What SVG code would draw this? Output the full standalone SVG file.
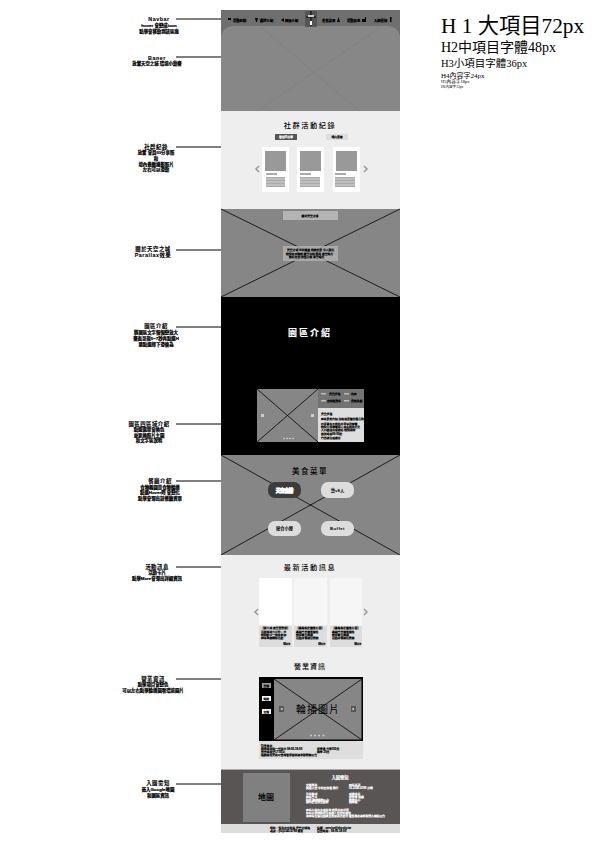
<svg xmlns="http://www.w3.org/2000/svg" width="596" height="842" viewBox="0 0 596 842">
<style>
text{font-family:"Liberation Sans","Noto Sans CJK TC",sans-serif;font-weight:700;fill:#000}
.a1{font-size:5.4px;letter-spacing:.5px;text-anchor:middle;stroke:#000;stroke-width:.1}
.a2{font-size:4.4px;text-anchor:middle;stroke:#000;stroke-width:.22}
.h{font-family:"Liberation Serif","Noto Sans CJK TC",serif;font-weight:400}
.t{text-anchor:middle;letter-spacing:1.6px;font-size:7.2px;font-weight:500}
.s{font-size:2.8px;stroke:#000;stroke-width:.14}
.n{font-size:3.3px;stroke:#000;stroke-width:.2}
.w{fill:#fff;stroke:#fff}
.m{text-anchor:middle}
.con{stroke:#000;stroke-width:1;fill:none}
.x{stroke:#000;stroke-width:.8;fill:none}
.grey{fill:#868686}
.chev{fill:none;stroke:#999;stroke-width:1.5}
</style>
<g id="connectors">
<path class="con" d="M176 19H221M176 57H221M176 147H221M176 250H221M176 327H221M176 424H221M176 481H221M176 567H221M176 679H221M176 784H221"/>
</g>
<g id="style-guide">
<text class="h" x="441" y="33" font-size="21.3">H 1 大項目72px</text>
<text class="h" x="441" y="52" font-size="14">H2中項目字體48px</text>
<text class="h" x="441" y="66.500" font-size="10.500">H3小項目字體36px</text>
<text class="h" x="441" y="78" font-size="7">H4內容字24px</text>
<text class="h" x="441" y="83" font-size="4.600">H5內容字18px</text>
<text class="h" x="441" y="87.500" font-size="3.600">H6內容字12px</text>
</g>
<g id="label-navbar"><text class="a1" x="159" y="21">Navbar</text><text class="a2" x="159" y="27">hover 會變成icon</text><text class="a2" x="159" y="33">點擊會移動到該區塊</text></g>
<g id="label-banner"><text class="a1" x="157" y="60">Baner</text><text class="a2" x="157" y="65">放置天空之城 環境小動畫</text></g>
<g id="label-social"><text class="a1" x="156" y="149">社群紀錄</text><text class="a2" x="156" y="154">放置 會員IG分享照</text><text class="a2" x="156" y="160">和</text><text class="a2" x="156" y="166">場內景緻攝影照片</text><text class="a2" x="156" y="171">左右可以滑動</text></g>
<g id="label-about"><text class="a1" x="153" y="251">關於天空之城</text><text class="a1" x="153" y="257">Parallax效果</text></g>
<g id="label-intro"><text class="a1" x="156" y="328">園區介紹</text><text class="a2" x="156" y="334">將園區文字慢慢變放大</text><text class="a2" x="156" y="339.500">畫面呈現5~7秒再點選H</text><text class="a2" x="156" y="346">要點選擇下滑後為</text></g>
<g id="label-areas"><text class="a1" x="149" y="426">園區四區域介紹</text><text class="a2" x="149" y="431">點選選單會換色</text><text class="a2" x="149" y="436.500">並更換照片主圖</text><text class="a2" x="149" y="442">和文字區說明</text></g>
<g id="label-food"><text class="a1" x="160" y="483">餐廳介紹</text><text class="a2" x="160" y="488.500">食物橢圓是食物輪播</text><text class="a2" x="160" y="494">點選Hover時 會變化</text><text class="a2" x="160" y="499.500">點擊會彈出該餐廳資單</text></g>
<g id="label-news"><text class="a1" x="157" y="569">活動訊息</text><text class="a2" x="157" y="574">活動卡片</text><text class="a2" x="157" y="580">點擊More會彈出詳細資訊</text></g>
<g id="label-hours"><text class="a1" x="153" y="681">營業資訊</text><text class="a2" x="153" y="686">點擊項目會變色</text><text class="a2" x="153" y="692">可以左右點擊輪播圖看環境圖片</text></g>
<g id="label-visit"><text class="a1" x="158" y="785">入園需知</text><text class="a2" x="158" y="791">嵌入Google地圖</text><text class="a2" x="158" y="797">和園區資訊</text></g>

<g id="banner">
<rect x="221" y="10" width="179" height="101" fill="#6f6f6f"/>
<path d="M221 38a12 12 0 0 1 12-12H388a12 12 0 0 1 12 12V111H221Z" fill="#878787"/>
<path d="M261 27 359 111M381 27 257 111" stroke="#777" stroke-width=".4" fill="none"/>
</g>
<g id="navbar">
<rect x="305" y="11" width="12" height="16" fill="#555"/>
<path d="M311 11v15M306 17h10" stroke="#000" stroke-width="1"/><rect x="308" y="15" width="6" height="2" fill="#ccc"/><rect x="310" y="21" width="2" height="4" fill="#fff"/>
<g fill="#000">
<rect x="228" y="18" width="3" height="2"/><text class="n" x="233" y="21.500">活動紀錄</text>
<path d="M255 18h3l-1 4h-1z"/><text class="n" x="260" y="21.500">關於介紹</text>
<path d="M281 20l3-2v4z"/><text class="n" x="285" y="21.500">園區介紹</text>
<text class="n" x="322" y="21.500">美食菜單</text><path d="M337 22l1.500-5 1.500 5z"/>
<text class="n" x="347" y="21.500">活動訊息</text><path d="M362 22v-3h3v-2h1v5z"/>
<text class="n" x="374" y="21.500">入園需知</text><rect x="390" y="17" width="1.500" height="5"/>
</g>
</g>

<g id="social">
<rect x="221" y="111" width="179" height="98" fill="#eee"/>
<text class="t" x="310" y="127.500">社群活動紀錄</text>
<rect x="275" y="134" width="22" height="6" fill="#555"/><text class="s w m" x="286" y="138">會員IG分享</text>
<rect x="326" y="134" width="22" height="6" fill="#ddd"/><text class="s m" x="337" y="138">場內景緻</text>
<path class="chev" d="M259 166l-3 3 3 3M364 166l3 3-3 3"/>
<g fill="#fff"><rect x="262" y="147" width="27" height="45"/><rect x="297" y="147" width="27" height="45"/><rect x="333" y="147" width="27" height="45"/></g>
<g fill="#999"><rect x="265" y="151" width="21" height="20"/><rect x="300" y="151" width="21" height="20"/><rect x="336" y="151" width="21" height="20"/></g>
<g fill="#aaa">
<rect x="266" y="173" width="11" height="2"/><rect x="266" y="177" width="19" height="10"/>
<rect x="300" y="173" width="11" height="2"/><rect x="300" y="177" width="20" height="10"/>
<rect x="335" y="173" width="11" height="2"/><rect x="335" y="177" width="20" height="10"/>
</g>
<path d="M266 179h19M266 182h19M266 185h19M300 179h20M300 182h20M300 185h20M335 179h20M335 182h20M335 185h20" stroke="#fff" stroke-width=".5"/>
</g>

<g id="about">
<rect x="221" y="209" width="179" height="88" class="grey"/>
<path class="x" d="M221 209 400 297M400 209 221 297"/>
<rect x="283" y="211" width="55" height="9" fill="#b4b4b4"/><text class="s m" x="310" y="216.500">關於天空之城</text>
<rect x="283" y="246" width="55" height="15" fill="#b0b0b0" fill-opacity=".85"/>
<text class="s" x="287" y="251">天空之城 位於高處 俯瞰美景 令人難忘</text><text class="s" x="286" y="254.500">歡迎來到這裡 感受山林 雲海 星空魅力</text><text class="s" x="289" y="258">親近自然 放鬆心情 享受時光</text>
</g>

<g id="intro">
<rect x="221" y="297" width="179" height="158" fill="#000"/>
<text class="w m" x="310" y="336" font-size="9" letter-spacing="2" style="stroke-width:.1">園區介紹</text>
<rect x="257" y="389" width="61" height="53" class="grey"/>
<path class="x" d="M257 389 318 442M318 389 257 442" stroke-width="1"/>
<rect x="261" y="414" width="3" height="3" fill="#ccc"/><rect x="311" y="414" width="3" height="3" fill="#ccc"/>
<g fill="#ddd"><circle cx="284" cy="438.500" r=".8"/><circle cx="287" cy="438.500" r=".8"/><circle cx="290" cy="438.500" r=".8"/><circle cx="293" cy="438.500" r=".8"/></g>
<rect x="318" y="389" width="46" height="19" fill="#737373"/>
<rect x="318" y="408" width="46" height="34" fill="#dedede"/>
<g fill="#bbb"><rect x="321" y="393" width="5" height="1.500"/><rect x="344" y="393" width="5" height="1.500"/><rect x="321" y="400" width="5" height="1.500"/><rect x="344" y="400" width="5" height="1.500"/></g>
<text class="s" x="329" y="395">天空步道</text><text class="s" x="351" y="395">花園</text><text class="s" x="327" y="402">森林遊樂區</text><text class="s" x="351" y="402">景觀餐廳</text>
<text class="s" x="321" y="414.500">天空步道</text>
<text class="s" x="321" y="420">園區景點介紹 沿路風景優美適合散步</text>
<text class="s" x="321" y="424.500">四季皆有不同花卉可以欣賞喔</text><text class="s" x="321" y="427.500">歡迎大家帶著家人朋友前來走走</text><text class="s" x="321" y="430.500">入口處設有服務站 歡迎詢問</text>
<text class="s" x="321" y="435">開放時間09:00起</text><text class="s" x="321" y="438.500">門票請洽服務台</text>
</g>

<g id="food">
<rect x="221" y="455" width="179" height="100" class="grey"/>
<path class="x" d="M221 455 400 555M400 455 221 555"/>
<text class="m" x="310" y="473.500" font-size="7.500" letter-spacing="1.500" style="font-weight:500">美食菜單</text>
<rect x="268" y="482" width="33" height="16" rx="7" fill="#3c3c3c"/><text class="w m" x="284.500" y="491.500" font-size="4.300">天空食譜</text>
<rect x="321" y="482" width="33" height="16" rx="7" fill="#ddd"/><text class="m" x="337.500" y="491.500" font-size="4.300">藝v8人</text>
<rect x="268" y="521" width="33" height="15" rx="7" fill="#ddd"/><text class="m" x="284.500" y="530" font-size="4.300">秘食小屋</text>
<rect x="321" y="521" width="33" height="15" rx="7" fill="#ddd"/><text class="m" x="337.500" y="530" font-size="4.300" letter-spacing=".4">Buffet</text>
</g>

<g id="news">
<rect x="221" y="555" width="179" height="214" fill="#eee"/>
<path d="M221 769.500H400" stroke="#aaa" stroke-width="1"/>
<text class="t" x="310" y="569.500">最新活動訊息</text>
<path class="chev" d="M258 609l-3 3 3 3M364 609l3 3-3 3"/>
<rect x="259" y="578" width="33" height="47" fill="#fff"/><rect x="294" y="578" width="33" height="47" fill="#f6f6f6"/><rect x="330" y="578" width="32" height="47" fill="#f6f6f6"/>
<g fill="#ddd"><rect x="259" y="626" width="33" height="21"/><rect x="294" y="626" width="33" height="21"/><rect x="330" y="626" width="32" height="21"/></g>
<text class="s" x="261" y="629">【第六屆 星空音樂節】</text><text class="s" x="261" y="633">活動時間六月份，日</text><text class="s" x="261" y="636">歡迎親子一同來參加</text><text class="s" x="261" y="639">園區舉辦精彩活動</text>
<text class="s" x="296" y="629">【暑期限定優惠方案】</text><text class="s" x="296" y="633">暑期門票優惠價格</text><text class="s" x="296" y="636">歡迎學生團體</text><text class="s" x="296" y="639">活動詳情請洽官網</text>
<text class="s" x="332" y="629">【暑期限定優惠方案】</text><text class="s" x="332" y="633">暑期門票優惠價格</text><text class="s" x="332" y="636">歡迎學生團體</text><text class="s" x="332" y="639">活動詳情請洽官網</text>
<g fill="#bbb"><rect x="283" y="642" width="7" height="3.500"/><rect x="318" y="642" width="7" height="3.500"/><rect x="354" y="642" width="7" height="3.500"/></g>
<text class="s" x="283.500" y="645">More</text><text class="s" x="318.500" y="645">More</text><text class="s" x="354.500" y="645">More</text>
</g>

<g id="hours">
<text class="m" x="310" y="668.500" font-size="7" letter-spacing="1" style="font-weight:500">營業資訊</text>
<rect x="259" y="677" width="104" height="64" fill="#000"/>
<rect x="274" y="679" width="87.500" height="60.500" class="grey"/>
<path class="x" d="M274 679 362 740M362 679 274 740" stroke-width="1"/>
<rect x="262" y="683" width="9" height="5" fill="#999"/><rect x="262" y="696" width="9" height="5" fill="#fff"/><rect x="262" y="709" width="9" height="5" fill="#fff"/>
<text class="s" x="263.500" y="686.500">票價</text><text class="s" x="263.500" y="699.500">時間</text><text class="s" x="263.500" y="712.500">交通</text>
<text class="m" x="318" y="713" font-size="10" style="font-weight:400" letter-spacing="1">輪播圖片</text>
<rect x="279" y="706" width="5" height="6" fill="#555"/><rect x="351" y="706" width="5" height="6" fill="#555"/>
<path d="M282.500 707.500l-2 1.500 2 1.500zM352.500 707.500l2 1.500-2 1.500z" fill="#ddd"/>
<g fill="#ccc"><circle cx="311" cy="735.500" r="1"/><circle cx="315" cy="735.500" r="1"/><circle cx="319" cy="735.500" r="1"/><circle cx="323.500" cy="735.500" r="1"/></g>
<rect x="259" y="741" width="104" height="18" fill="#dedede"/>
<text class="s" x="261" y="746.500">營業資訊</text>
<text class="s" x="261" y="750">開放時間週一至週日 09:00-18:00</text><text class="s" x="261" y="753">售票時間至17:00止</text><text class="s" x="261" y="756">遇颱風等天候不佳時暫停開放請參閱官網公告</text>
<text class="s" x="317" y="750">停車場 汽車100元</text><text class="s" x="317" y="753">機車 30元</text>
</g>

<g id="visit">
<rect x="221" y="770" width="179" height="54" fill="#595555"/>
<rect x="221" y="824" width="179" height="9" fill="#ddd"/>
<rect x="243" y="773" width="47" height="49" fill="#808080"/>
<text class="m" x="266" y="800" font-size="8">地圖</text>
<text class="w m" x="340" y="779" font-size="4.300" style="stroke-width:.1">入園需知</text>
<text class="s w" x="306" y="786">交通資訊</text><text class="s w" x="306" y="789">國道三號 中和交流道 轉行</text>
<text class="s w" x="349" y="786">園區電話</text><text class="s w" x="349" y="789">02-2345-6789 分機</text>
<text class="s w" x="306" y="795">注意事項</text><text class="s w" x="306" y="798">園區禁止</text><text class="s w" x="306" y="800.500">吸菸 攜帶寵物入內</text><text class="s w" x="306" y="803">請勿餵食野生動物</text>
<text class="s w" x="349" y="795">服務項目</text><text class="s w" x="349" y="798">停車場 餐廳</text><text class="s w" x="349" y="800.500">遊客中心</text><text class="s w" x="349" y="803">無障礙</text>
<text class="s w" x="306" y="811">園區內設有多項設施 歡迎多加利用</text><text class="s w" x="306" y="813.500">如有任何問題可洽服務人員協助處理</text><text class="s w" x="306" y="816.500">本園區保留活動變更與取消之權利 最新資訊請參閱官方網站公告</text>
<text class="s" x="270" y="828.500">地址：新北市中和區 天空之城路</text><text class="s" x="270" y="831.500">電話：(02)2345-6789 傳真</text>
<text class="s" x="317" y="828.500">信箱：service@skycity.tw</text><text class="s" x="317" y="831.500">營業時間：09:00-18:00</text>
</g>
</svg>
